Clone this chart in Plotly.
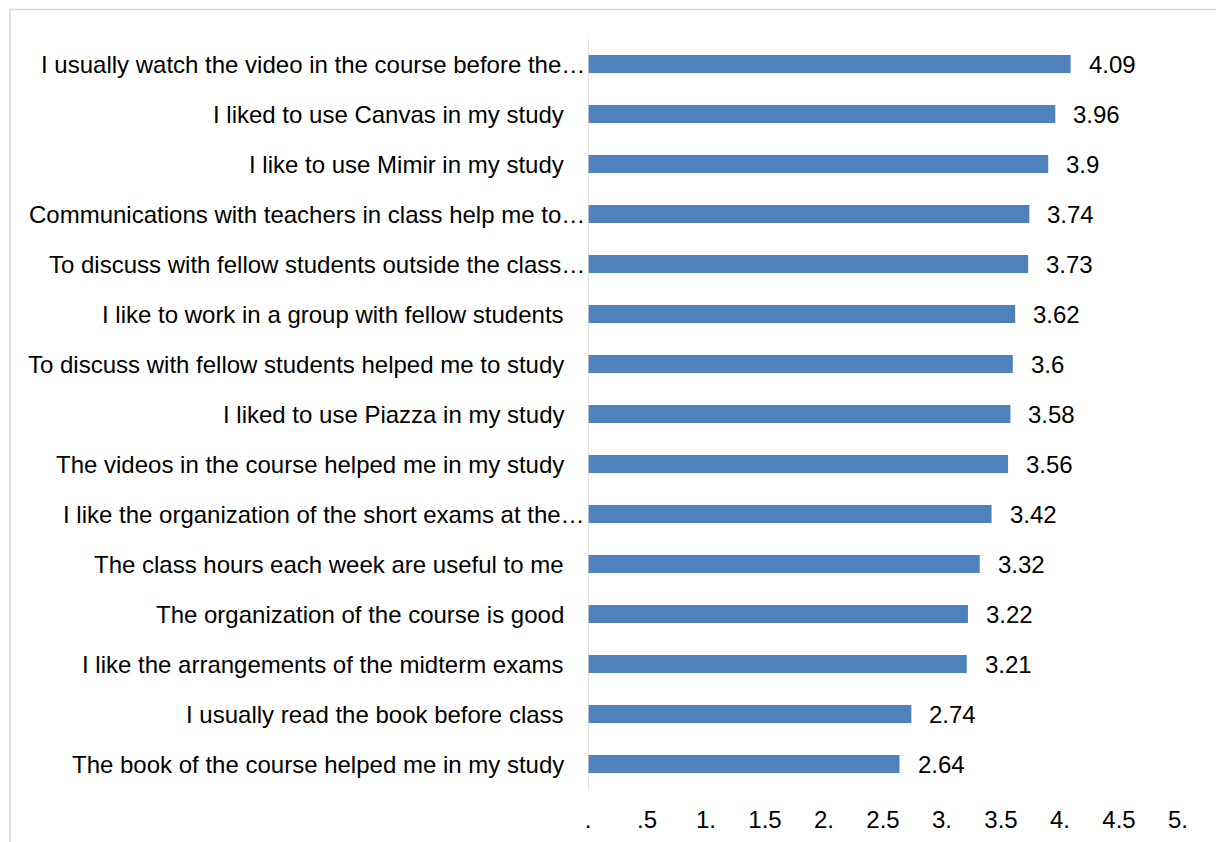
import plotly.graph_objects as go

# Survey statements (top to bottom) and their mean scores
statements = [
    "I usually watch the video in the course before the…",
    "I liked to use Canvas in my study",
    "I like to use Mimir in my study",
    "Communications with teachers in class help me to…",
    "To discuss with fellow students outside the class…",
    "I like to work in a group with fellow students",
    "To discuss with fellow students helped me to study",
    "I liked to use Piazza in my study",
    "The videos in the course helped me in my study",
    "I like the organization of the short exams at the…",
    "The class hours each week are useful to me",
    "The organization of the course is good",
    "I like the arrangements of the midterm exams",
    "I usually read the book before class",
    "The book of the course helped me in my study",
]
scores = [4.09, 3.96, 3.9, 3.74, 3.73, 3.62, 3.6, 3.58, 3.56, 3.42,
          3.32, 3.22, 3.21, 2.74, 2.64]

x_tick_values = [0, 0.5, 1, 1.5, 2, 2.5, 3, 3.5, 4, 4.5, 5]
x_tick_labels = [".", ".5", "1.", "1.5", "2.", "2.5", "3.", "3.5", "4.", "4.5", "5."]

FONT = "Liberation Sans, Arial, sans-serif"
FS = 24
W, H = 1216, 842
ML, MR, MT, MB = 588, 38, 39, 53
plot_w = W - ML - MR
plot_h = H - MT - MB

fig = go.Figure()
fig.add_trace(go.Bar(
    x=scores,
    y=statements,
    orientation="h",
    width=0.36,
    marker=dict(color="#4F81BD", line=dict(width=0)),
    hoverinfo="x+y",
))

annotations = []
# value labels to the right of each bar
for s, v in zip(statements, scores):
    annotations.append(dict(
        x=v, y=s, xref="x", yref="y", text=f"{v:g}",
        showarrow=False, xanchor="left", xshift=16,
        font=dict(family=FONT, size=FS, color="#000000"),
    ))
# category labels, right aligned against the axis
for s in statements:
    shift = -1 if s.endswith("…") else -22
    annotations.append(dict(
        x=0, y=s, xref="x", yref="y", text=s,
        showarrow=False, xanchor="right", xshift=shift,
        font=dict(family=FONT, size=FS, color="#000000"),
    ))

def px_to_paper_x(px):
    return (px - ML) / plot_w

def px_to_paper_y(py):
    return (H - MB - py) / plot_h

fig.update_layout(
    template="none",
    width=W, height=H,
    margin=dict(l=ML, r=MR, t=MT, b=MB, pad=0, autoexpand=False),
    paper_bgcolor="white", plot_bgcolor="white",
    showlegend=False,
    font=dict(family=FONT, size=FS, color="#000000"),
    annotations=annotations,
    shapes=[
        # chart frame
        dict(type="rect", xref="paper", yref="paper",
             x0=px_to_paper_x(10), x1=px_to_paper_x(W + 20),
             y0=px_to_paper_y(H + 20), y1=px_to_paper_y(9.5),
             line=dict(color="#D9D9D9", width=1.5), layer="below"),
        # vertical category axis line
        dict(type="line", xref="x", yref="paper",
             x0=0, x1=0, y0=0, y1=1,
             line=dict(color="#D9D9D9", width=1.5)),
    ],
)
fig.update_xaxes(
    range=[0, 5], tickvals=x_tick_values, ticktext=x_tick_labels,
    showgrid=False, zeroline=False, showline=False, ticks="",
    tickfont=dict(family=FONT, size=FS, color="#000000"),
    ticklabelstandoff=14, automargin=False,
    fixedrange=True,
)
fig.update_yaxes(
    autorange="reversed", showticklabels=False, showgrid=False,
    zeroline=False, showline=False, ticks="", fixedrange=True,
    automargin=False,
)

fig.write_html("out.html")
